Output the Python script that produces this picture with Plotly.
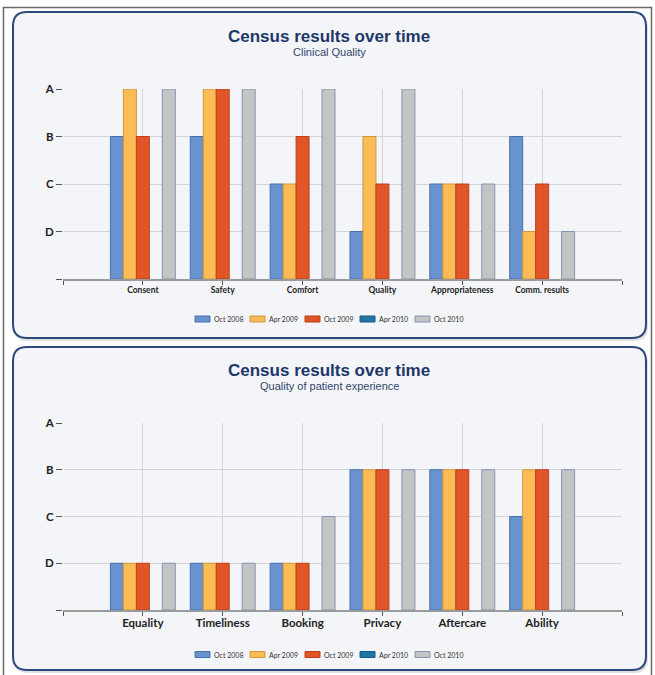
import plotly.graph_objects as go

# ---- data -------------------------------------------------------------
series_names = ["Oct 2008", "Apr 2009", "Oct 2009", "Apr 2010", "Oct 2010"]
series_colors = ["#6893cf", "#fbbc56", "#e25527", "#1f76a6", "#c4c4c6"]
series_edges = ["#4670ac", "#d0973c", "#b8401c", "#175a82", "#8594ad"]

grade_labels = ["", "D", "C", "B", "A"]          # 0 = baseline, 4 = A

clinical_categories = ["Consent", "Safety", "Comfort", "Quality",
                       "Appropriateness", "Comm. results"]
clinical_oct2008 = [3, 3, 2, 1, 2, 3]
clinical_apr2009 = [4, 4, 2, 3, 2, 1]
clinical_oct2009 = [3, 4, 3, 2, 2, 2]
clinical_apr2010 = [None, None, None, None, None, None]
clinical_oct2010 = [4, 4, 4, 4, 2, 1]

experience_categories = ["Equality", "Timeliness", "Booking", "Privacy",
                         "Aftercare", "Ability"]
experience_oct2008 = [1, 1, 1, 3, 3, 2]
experience_apr2009 = [1, 1, 1, 3, 3, 3]
experience_oct2009 = [1, 1, 1, 3, 3, 3]
experience_apr2010 = [None, None, None, None, None, None]
experience_oct2010 = [1, 1, 2, 3, 3, 3]

W, H = 655, 675


def px(x):
    return x / W


def py(y):
    return 1 - y / H


def rounded_rect(x0, y0, x1, y1, r):
    rx, ry = r / W, r / H
    X0, X1 = px(x0), px(x1)
    Y0, Y1 = py(y0), py(y1)   # Y0 is top in paper units
    return (f"M{X0 + rx},{Y0} L{X1 - rx},{Y0} Q{X1},{Y0} {X1},{Y0 - ry} "
            f"L{X1},{Y1 + ry} Q{X1},{Y1} {X1 - rx},{Y1} "
            f"L{X0 + rx},{Y1} Q{X0},{Y1} {X0},{Y1 + ry} "
            f"L{X0},{Y0 - ry} Q{X0},{Y0} {X0 + rx},{Y0} Z")


panels = [
    dict(title="Census results over time", subtitle="Clinical Quality",
         cats=clinical_categories,
         values=[clinical_oct2008, clinical_apr2009, clinical_oct2009,
                 clinical_apr2010, clinical_oct2010],
         box=(13, 12, 646, 338), plot_y=(89, 279), title_y=36, sub_y=52.5,
         legend_y=319, tick_size=8.5, standoff=-2, xaxis="x", yaxis="y"),
    dict(title="Census results over time", subtitle="Quality of patient experience",
         cats=experience_categories,
         values=[experience_oct2008, experience_apr2009, experience_oct2009,
                 experience_apr2010, experience_oct2010],
         box=(13, 347, 646, 670), plot_y=(423, 610), title_y=370, sub_y=386.5,
         legend_y=654.5, tick_size=11.5, standoff=-3, xaxis="x2", yaxis="y2"),
]

fig = go.Figure()
shapes = []
annotations = []
plot_x = (63, 622)

for p in panels:
    n = len(p["cats"])
    xs = list(range(n))
    for name, vals, col, edge in zip(series_names, p["values"], series_colors, series_edges):
        fig.add_trace(go.Bar(
            x=xs, y=vals, name=name, xaxis=p["xaxis"], yaxis=p["yaxis"],
            marker=dict(color=col, line=dict(color=edge, width=1)),
            showlegend=False, hoverinfo="skip"))

    # panel box with a soft shadow
    bx0, by0, bx1, by1 = p["box"]
    shapes.append(dict(type="path", xref="paper", yref="paper", layer="below",
                       path=rounded_rect(bx0 + 1, by0 + 2, bx1 + 2, by1 + 3, 14),
                       fillcolor="rgba(0,0,0,0.12)", line=dict(width=0)))
    shapes.append(dict(type="path", xref="paper", yref="paper", layer="below",
                       path=rounded_rect(bx0, by0, bx1, by1, 14),
                       fillcolor="#f3f5f8", line=dict(color="#2b4a7c", width=2)))

    annotations.append(dict(text=f"<b>{p['title']}</b>", xref="paper", yref="paper",
                            x=px(329), y=py(p["title_y"]), showarrow=False,
                            xanchor="center", yanchor="middle",
                            font=dict(family="Liberation Sans, Arial", size=17,
                                      color="#1d3769")))
    annotations.append(dict(text=p["subtitle"], xref="paper", yref="paper",
                            x=px(329), y=py(p["sub_y"]), showarrow=False,
                            xanchor="center", yanchor="middle",
                            font=dict(family="Liberation Sans, Arial", size=11,
                                      color="#34466f")))

    # legend row
    for i, (name, col, edge) in enumerate(zip(series_names, series_colors, series_edges)):
        sx = 195 + 55 * i
        ly = p["legend_y"]
        shapes.append(dict(type="rect", xref="paper", yref="paper",
                           x0=px(sx), x1=px(sx + 15), y0=py(ly + 3), y1=py(ly - 3),
                           fillcolor=col, line=dict(color=edge, width=1)))
        annotations.append(dict(text=name, xref="paper", yref="paper",
                                x=px(sx + 17), y=py(ly), showarrow=False,
                                xanchor="left", yanchor="middle",
                                font=dict(family="Lato", size=7, color="#333333")))

# outer frame
shapes.append(dict(type="rect", xref="paper", yref="paper", layer="below",
                   x0=px(3.5), x1=px(651.5), y0=py(676), y1=py(7.5),
                   fillcolor="rgba(0,0,0,0)", line=dict(color="#6a6a6a", width=1.5)))

layout_axes = {}
for idx, p in enumerate(panels):
    n = len(p["cats"])
    sfx = "" if idx == 0 else str(idx + 1)
    y0, y1 = p["plot_y"]
    layout_axes["xaxis" + sfx] = dict(
        domain=[px(plot_x[0]), px(plot_x[1])], anchor="y" + sfx,
        range=[-1, n], tickvals=list(range(-1, n + 1)),
        ticktext=[""] + p["cats"] + [""],
        showgrid=True, gridcolor="#d2d4d8", gridwidth=1,
        ticks="outside", ticklen=4, tickcolor="#555555",
        ticklabelstandoff=p["standoff"],
        showline=True, linecolor="#9a9a9a", linewidth=2, zeroline=False,
        automargin=False,
        tickfont=dict(family="Lato", size=p["tick_size"], color="#222222",
                      weight="bold"),
        fixedrange=True)
    layout_axes["yaxis" + sfx] = dict(
        domain=[py(y1), py(y0)], anchor="x" + sfx,
        range=[0, 4], tickvals=[0, 1, 2, 3, 4], ticktext=grade_labels,
        showgrid=True, gridcolor="#d2d4d8", gridwidth=1,
        ticks="outside", ticklen=6, tickcolor="#555555",
        showline=False, zeroline=False, automargin=False,
        tickfont=dict(family="Lato", size=11.5, color="#222222", weight="bold"),
        fixedrange=True)

fig.update_layout(
    width=W, height=H, margin=dict(l=0, r=0, t=0, b=0, pad=0, autoexpand=False),
    paper_bgcolor="#ffffff", plot_bgcolor="rgba(0,0,0,0)",
    barmode="group", bargap=0.1875, bargroupgap=0,
    showlegend=False, shapes=shapes, annotations=annotations,
    **layout_axes)

fig.write_html("out.html")
